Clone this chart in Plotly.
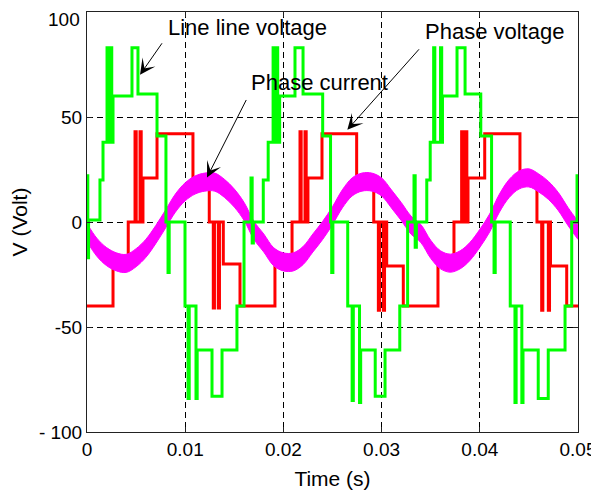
import plotly.graph_objects as go

# ---------------- data (time in ms, values in volts / amps) ----------------
# Line-line voltage: step breakpoints (value holds until next time)
ll_t = [0.00, 0.08, 0.16, 1.32, 1.63, 2.04, 2.16, 2.40, 2.52, 2.65, 4.58, 5.19, 7.13, 8.04, 8.25, 8.37,
        9.98, 10.29, 10.41, 11.10, 11.22, 12.73, 13.75, 15.27, 15.99, 16.70, 16.82, 16.94,
        17.95, 18.45, 18.95, 19.07, 19.30, 19.42, 19.62, 21.18, 22.00, 24.00, 24.80, 24.92, 25.04,
        26.55, 27.00, 27.12, 27.75, 27.87, 29.35, 30.35, 31.85, 32.65, 33.30, 33.42, 33.54,
        34.60, 34.95, 35.30, 35.42, 36.00, 36.12, 36.20, 37.68, 38.50, 40.10, 41.20, 41.45, 41.57,
        43.10, 43.58, 43.70, 44.28, 44.40, 45.95, 46.97, 48.68, 49.36, 49.90, 50.00]
ll_v = [22, -17, 1, 20, 38, 83, 38, 83, 38, 60, 83, 61, 41, 0, -24, 0,
        -40, -84, -40, -84, -61, -83, -61, -40, 0, 21, -10, 0,
        20, 38, 83, 38, 83, 38, 60, 83, 61, 41, 0, -24, 0,
        -40, -85, -40, -86, -61, -83, -61, -40, 0, 22, -12, 0,
        20, 38, 83, 38, 83, 38, 60, 83, 61, 41, 0, -24, 0,
        -40, -86, -40, -86, -61, -84, -61, -40, 0, 22, 0]

# Phase voltage: step breakpoints
ph_t = [0.00, 2.65, 4.20, 4.89, 5.01, 5.40, 5.52, 5.70, 7.13, 10.79, 12.45, 12.86, 12.98, 13.37, 13.49, 13.88, 15.58,
        19.14, 20.88, 21.69, 21.81, 22.20, 22.32, 22.50, 23.93, 27.46, 29.20, 29.67, 29.79, 30.18, 30.30, 30.52, 32.21,
        35.74, 37.37, 38.15, 38.27, 38.56, 38.68, 38.80, 40.50, 44.09, 45.82, 46.30, 46.42, 46.98, 47.10, 47.20, 48.85,
        50.00]
ph_v = [-40, -20, 0, 43, 0, 43, 0, 21, 42, 21, 0, -41, 0, -41, 0, -20, -40,
        -20, 0, 43, 0, 43, 0, 21, 42, 21, 0, -42, 0, -42, 0, -21, -40,
        -20, 0, 43, 0, 43, 0, 21, 42, 21, 0, -42, 0, -42, 0, -21, -40,
        -40]

# Phase current: band centre read every 1 ms
cur_t = list(range(0, 51))
cur_v = [-5, -12, -16.5, -19, -19.7, -17, -12.5, -6, 1.4, 9, 14.4, 17.6, 19, 19, 16, 11.4, 5,
         -4, -10, -16.5, -19, -19, -16, -10, -4, 3, 11, 16.7, 19, 19, 16.7, 11, 5, -1.5,
         -5.5, -13, -18, -19.6, -18, -14, -7.8, -0.5, 9, 16, 20, 21, 18.6, 15, 9.7, 2.5, -4]

x_ticks = [0, 0.01, 0.02, 0.03, 0.04, 0.05]
x_ticktext = ["0", "0.01", "0.02", "0.03", "0.04", "0.05"]
y_ticks = [-100, -50, 0, 50, 100]
y_ticktext = ["- 100", "-50", "0", "50", ""]
y_top_label = "100"   # drawn separately so it is not clipped at the page top

# ---------------- figure ----------------
FONT = "Liberation Sans, Arial, sans-serif"
BAND = 4.3  # half thickness of the noisy current band (style)

fig = go.Figure()
fig.add_trace(go.Scatter(x=[t / 1000 for t in ph_t], y=ph_v, mode="lines",
                         line=dict(color="#ff0000", width=3, shape="hv"), showlegend=False))
fig.add_trace(go.Scatter(x=[t / 1000 for t in cur_t], y=[v - BAND for v in cur_v], mode="lines",
                         line=dict(color="#ff00ff", width=1, shape="spline"), showlegend=False))
fig.add_trace(go.Scatter(x=[t / 1000 for t in cur_t], y=[v + BAND for v in cur_v], mode="lines",
                         line=dict(color="#ff00ff", width=1, shape="spline"), fill="tonexty",
                         fillcolor="#ff00ff", showlegend=False))
fig.add_trace(go.Scatter(x=[t / 1000 for t in ll_t], y=ll_v, mode="lines",
                         line=dict(color="#00ff00", width=3, shape="hv"), showlegend=False))

axis_common = dict(showline=True, linecolor="#222222", linewidth=1, mirror="ticks",
                   ticks="inside", ticklen=5, tickcolor="#222222", automargin=False,
                   ticklabeloverflow="allow",
                   showgrid=True, gridcolor="black", gridwidth=1, griddash="6px,4px",
                   zeroline=False, tickfont=dict(family=FONT, size=19, color="black"))

fig.update_xaxes(range=[0, 0.05], tickvals=x_ticks, ticktext=x_ticktext,
                 title=dict(text="Time (s)", font=dict(family=FONT, size=21, color="black"), standoff=12),
                 **axis_common)
fig.update_yaxes(range=[-100, 100], tickvals=y_ticks, ticktext=y_ticktext,
                 title=dict(text="V (Volt)", font=dict(family=FONT, size=21, color="black"), standoff=11),
                 **axis_common)

fig.add_annotation(xref="paper", yref="paper", x=0, y=1, xanchor="right", yanchor="middle",
                   xshift=-6, yshift=-7, borderpad=0, text=y_top_label, showarrow=False,
                   font=dict(family=FONT, size=19, color="black"))

ann_font = dict(family=FONT, size=22, color="black")
fig.add_annotation(x=0.00804, y=92.5, text="Line line voltage", showarrow=False,
                   xanchor="left", yanchor="middle", font=ann_font)
fig.add_annotation(x=0.01645, y=66.5, text="Phase current", showarrow=False,
                   xanchor="left", yanchor="middle", font=ann_font)
fig.add_annotation(x=0.03422, y=90.5, text="Phase voltage", showarrow=False,
                   xanchor="left", yanchor="middle", font=ann_font)

arrow_style = dict(text="", showarrow=True, arrowhead=3, arrowsize=2.6, arrowwidth=1,
                   arrowcolor="black", standoff=0, startstandoff=0)
fig.add_annotation(x=0.0054, y=70.1, ax=23, ay=-33, **arrow_style)
fig.add_annotation(x=0.01222, y=21.2, ax=40, ay=-79, **arrow_style)
fig.add_annotation(x=0.02651, y=43.9, ax=73, ay=-82, **arrow_style)

# the page adds an 8 px body margin, so margins are reduced by 8 px on the left/top
fig.update_layout(width=599, height=490, margin=dict(l=79, r=29, t=4, b=66, autoexpand=False),
                  paper_bgcolor="white", plot_bgcolor="white",
                  font=dict(family=FONT, color="black"))

fig.write_html("out.html")
